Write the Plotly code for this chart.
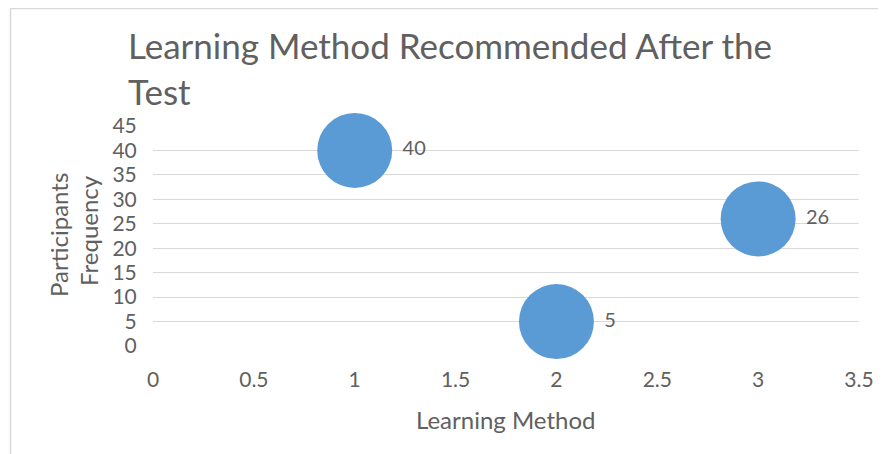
import plotly.graph_objects as go

methods = [1, 2, 3]
participants = [40, 5, 26]
labels = ["40", "5", "26"]

FONT = "Lato"
GRAY = "#606060"

# page body has an 8px margin: design in window pixels, figure starts at (8, 8)
OFF = 8
W, H = 886 - OFF, 454 - OFF
L, R, T, B = 153 - OFF, 27, 126 - OFF, 108
pw, ph = W - L - R, H - T - B

def px_x(wx):
    return (wx - OFF - L) / pw

def px_y(wy):
    return (H - B - (wy - OFF)) / ph

fig = go.Figure()
fig.add_trace(go.Scatter(
    x=methods, y=participants, mode="markers+text",
    text=labels, textposition="middle right",
    textfont=dict(family=FONT, size=20, color=GRAY),
    marker=dict(size=75, color="#5b9bd5", line=dict(width=0)),
    hoverinfo="x+y", showlegend=False, cliponaxis=False,
))

fig.update_layout(
    width=W, height=H,
    margin=dict(l=L, r=R, t=T, b=B),
    paper_bgcolor="white", plot_bgcolor="white",
    font=dict(family=FONT, color=GRAY),
    xaxis=dict(
        range=[0, 3.5], dtick=0.5, tick0=0,
        showgrid=False, zeroline=False, showline=False,
        tickfont=dict(family=FONT, size=21, color=GRAY),
        ticks="outside", ticklen=15, tickcolor="rgba(0,0,0,0)",
    ),
    yaxis=dict(
        range=[0, 45], dtick=5, tick0=0,
        showgrid=True, gridcolor="#d9d9d9", gridwidth=1.2,
        zeroline=False, showline=False,
        tickfont=dict(family=FONT, size=21, color=GRAY),
        ticks="outside", ticklen=11, tickcolor="rgba(0,0,0,0)",
    ),
    annotations=[
        dict(text="Learning Method Recommended After the<br>Test",
             xref="paper", yref="paper", x=px_x(126), y=px_y(22),
             xanchor="left", yanchor="top", align="left", showarrow=False,
             font=dict(family=FONT, size=35, color=GRAY)),
        dict(text="Learning Method", xref="paper", yref="paper",
             x=px_x(506), y=px_y(419), xanchor="center", yanchor="middle",
             showarrow=False, font=dict(family=FONT, size=24, color=GRAY)),
        dict(text="Participants", xref="paper", yref="paper",
             x=px_x(58), y=px_y(235), xanchor="center", yanchor="middle",
             textangle=-90, showarrow=False,
             font=dict(family=FONT, size=24, color=GRAY)),
        dict(text="Frequency", xref="paper", yref="paper",
             x=px_x(88), y=px_y(231), xanchor="center", yanchor="middle",
             textangle=-90, showarrow=False,
             font=dict(family=FONT, size=24, color=GRAY)),
    ],
    shapes=[
        dict(type="line", xref="paper", yref="paper",
             x0=px_x(10), x1=px_x(900), y0=px_y(8.5), y1=px_y(8.5),
             line=dict(color="#d9d9d9", width=1.5)),
        dict(type="line", xref="paper", yref="paper",
             x0=px_x(10.5), x1=px_x(10.5), y0=px_y(8), y1=px_y(470),
             line=dict(color="#d9d9d9", width=1.5)),
    ],
)

fig.write_html("out.html")
